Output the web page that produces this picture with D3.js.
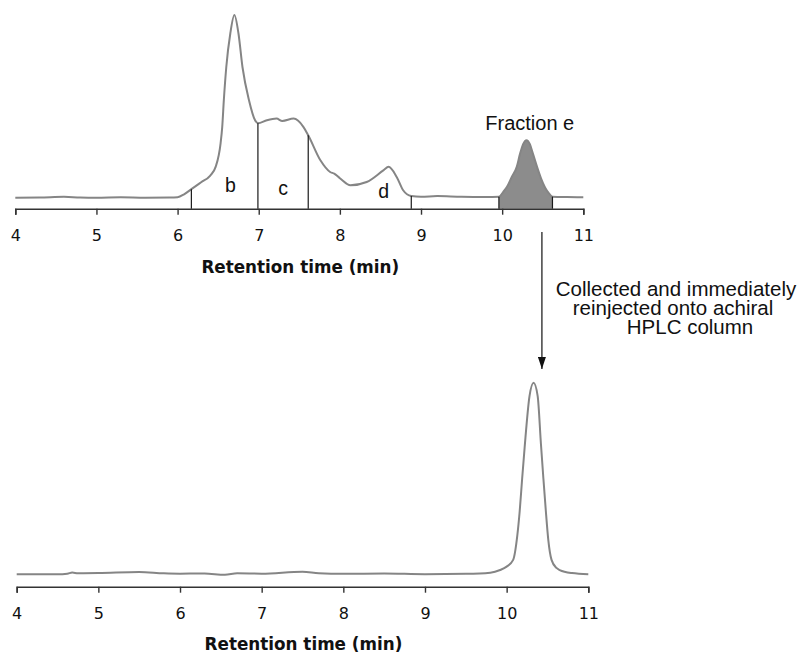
<!DOCTYPE html>
<html>
<head>
<meta charset="utf-8">
<script src="https://cdn.jsdelivr.net/npm/d3@7"></script>
<style>
    body { margin: 0; background: #fff; }
    .tick text { font-family: "DejaVu Sans", Verdana, sans-serif; font-size: 16px; fill: #111; }
    .axis-title { font-family: "DejaVu Sans", Verdana, sans-serif; font-size: 16.8px; font-weight: bold; fill: #111; }
    .label { font-family: "Liberation Sans", Arial, sans-serif; fill: #111; }
</style>
</head>
<body>
<svg id="chart" width="809" height="653"></svg>
<script>
// retention time ticks (min)
const ticks = [4, 5, 6, 7, 8, 9, 10, 11];

// chiral column trace: [time, relative signal (% of main peak)]
const chiralTrace = [
    [4.0, 0], [4.3, 0.1], [4.6, 0.5], [4.8, 0.1], [5.0, 0], [5.3, 0.2], [5.6, 0], [5.9, 0.1],
    [6.0, 0.3], [6.08, 1.9], [6.17, 4.7], [6.29, 8.5], [6.4, 12], [6.47, 17], [6.53, 29.8],
    [6.55, 38.6], [6.57, 53.4], [6.6, 71.4], [6.65, 90], [6.7, 100], [6.75, 90], [6.8, 71.4],
    [6.88, 53.4], [6.955, 42.4], [6.99, 40.8], [7.1, 42.4], [7.22, 43.3], [7.29, 42.0],
    [7.43, 43.3], [7.55, 38.8], [7.61, 34.2], [7.76, 20.5], [7.88, 14.1], [7.93, 13.2],
    [8.0, 10.7], [8.13, 6.8], [8.33, 8.6], [8.54, 15.1], [8.6, 16.9], [8.7, 11.4],
    [8.78, 4.1], [8.88, 0.9], [9.0, 0.5], [9.2, 0.9], [9.5, 0.5], [9.8, 0.4], [9.96, 0.5],
    [10.01, 3.0], [10.06, 6.0], [10.12, 11.5], [10.18, 16.9], [10.22, 24], [10.26, 29.5],
    [10.3, 31.5], [10.34, 29.5], [10.38, 24], [10.43, 16.9], [10.48, 10.5], [10.53, 5.5],
    [10.57, 2.8], [10.62, 0.6], [10.8, 0.4], [11.0, 0.3]
];

// achiral column trace after reinjection of fraction e
const achiralTrace = [
    [4.0, 0], [4.5, 0], [4.62, 0.3], [4.68, 0.9], [4.75, 0.5], [5.0, 0.6], [5.5, 1.2],
    [5.8, 0.5], [6.0, 0.3], [6.3, 0.4], [6.55, -0.3], [6.7, 0.5], [7.0, 0.3], [7.5, 1.3],
    [7.7, 0.5], [8.0, 0.2], [8.5, 0.4], [9.0, 0], [9.5, 0.2], [9.8, 0.8], [9.92, 2.2],
    [10.0, 4.0], [10.08, 7.5], [10.13, 20], [10.16, 33], [10.19, 50], [10.22, 66],
    [10.28, 93], [10.33, 100], [10.38, 93], [10.42, 68], [10.45, 50], [10.48, 33],
    [10.51, 18], [10.55, 7.5], [10.61, 3.3], [10.65, 2.2], [10.8, 0.6], [11.0, 0]
];

// fraction cut points (min)
const cuts = [6.17, 6.99, 7.61, 8.88, 9.96, 10.62];
const fractionE = [9.96, 10.62];
const fractionLabels = [
    {name: "b", t: 6.65, v: 3},
    {name: "c", t: 7.30, v: 1.3},
    {name: "d", t: 8.54, v: -0.3}
];
const noteLines = ["Collected and immediately", "reinjected onto achiral", "HPLC column"];

const svg = d3.select("#chart");

const topPanel = {
    x: d3.scaleLinear().domain([4, 11]).range([15.3, 583.3]),
    y: d3.scaleLinear().domain([-6, 100]).range([208.7, 15])
};
const bottomPanel = {
    x: d3.scaleLinear().domain([4, 11]).range([16.7, 588.3]),
    y: d3.scaleLinear().domain([-6.5, 100]).range([586.7, 382.7])
};

function valueAt(trace, t) {
    const i = d3.bisector(d => d[0]).left(trace, t);
    if (i <= 0) return trace[0][1];
    if (i >= trace.length) return trace[trace.length - 1][1];
    const a = trace[i - 1], b = trace[i];
    return a[1] + (b[1] - a[1]) * (t - a[0]) / (b[0] - a[0]);
}

function drawAxis(panel, titleY) {
    const axisY = panel.y.range()[0];
    const g = svg.append("g")
        .attr("transform", "translate(0," + axisY + ")")
        .call(d3.axisBottom(panel.x).tickValues(ticks).tickSize(6).tickPadding(15).tickFormat(d3.format("d")));
    g.select(".domain").attr("stroke", "#333").attr("stroke-width", 1.6);
    g.selectAll(".tick line").attr("stroke", "#333").attr("stroke-width", 1.4);

    svg.append("text")
        .attr("class", "axis-title")
        .attr("x", (panel.x(4) + panel.x(11)) / 2 + 1)
        .attr("y", titleY)
        .attr("text-anchor", "middle")
        .text("Retention time (min)");
}

function line(panel) {
    return d3.line()
        .curve(d3.curveMonotoneX)
        .x(d => panel.x(d[0]))
        .y(d => panel.y(d[1]));
}

// top panel: fraction e shading
const eData = chiralTrace.filter(d => d[0] >= fractionE[0] && d[0] <= fractionE[1]);
svg.append("path")
    .datum(eData)
    .attr("fill", "#8c8c8c")
    .attr("d", d3.area()
        .curve(d3.curveMonotoneX)
        .x(d => topPanel.x(d[0]))
        .y0(topPanel.y.range()[0])
        .y1(d => topPanel.y(d[1])));

drawAxis(topPanel, 272.5);

svg.append("path")
    .datum(chiralTrace)
    .attr("fill", "none")
    .attr("stroke", "#858585")
    .attr("stroke-width", 2)
    .attr("d", line(topPanel));

svg.selectAll(".cut")
    .data(cuts)
    .enter().append("line")
    .attr("class", "cut")
    .attr("x1", d => topPanel.x(d))
    .attr("x2", d => topPanel.x(d))
    .attr("y1", d => topPanel.y(valueAt(chiralTrace, d)))
    .attr("y2", topPanel.y.range()[0])
    .attr("stroke", "#1a1a1a")
    .attr("stroke-width", 1.2);

svg.selectAll(".frac")
    .data(fractionLabels)
    .enter().append("text")
    .attr("class", "label")
    .attr("x", d => topPanel.x(d.t))
    .attr("y", d => topPanel.y(d.v))
    .attr("text-anchor", "middle")
    .attr("font-size", 19.5)
    .text(d => d.name);

svg.append("text")
    .attr("class", "label")
    .attr("x", topPanel.x(10.34))
    .attr("y", topPanel.y(d3.max(eData, d => d[1])) - 10)
    .attr("text-anchor", "middle")
    .attr("font-size", 20)
    .text("Fraction e");

// arrow from fraction e down to reinjected peak
const arrowX = topPanel.x(10.49);
svg.append("defs").append("marker")
    .attr("id", "head")
    .attr("viewBox", "0 0 12 8")
    .attr("refX", 12).attr("refY", 4)
    .attr("markerWidth", 12).attr("markerHeight", 8)
    .attr("markerUnits", "userSpaceOnUse")
    .attr("orient", "auto")
    .append("path")
    .attr("d", "M0,0L12,4L0,8Z")
    .attr("fill", "#111");

svg.append("line")
    .attr("x1", arrowX).attr("x2", arrowX)
    .attr("y1", 232).attr("y2", 369)
    .attr("stroke", "#111")
    .attr("stroke-width", 1.2)
    .attr("marker-end", "url(#head)");

const noteX = [676, 673, 690];
svg.selectAll(".note")
    .data(noteLines)
    .enter().append("text")
    .attr("class", "label")
    .attr("x", (d, i) => noteX[i])
    .attr("y", (d, i) => 296 + i * 19)
    .attr("text-anchor", "middle")
    .attr("font-size", 20.5)
    .text(d => d);

// bottom panel
drawAxis(bottomPanel, 650);

svg.append("path")
    .datum(achiralTrace)
    .attr("fill", "none")
    .attr("stroke", "#858585")
    .attr("stroke-width", 2)
    .attr("d", line(bottomPanel));
</script>
</body>
</html>
